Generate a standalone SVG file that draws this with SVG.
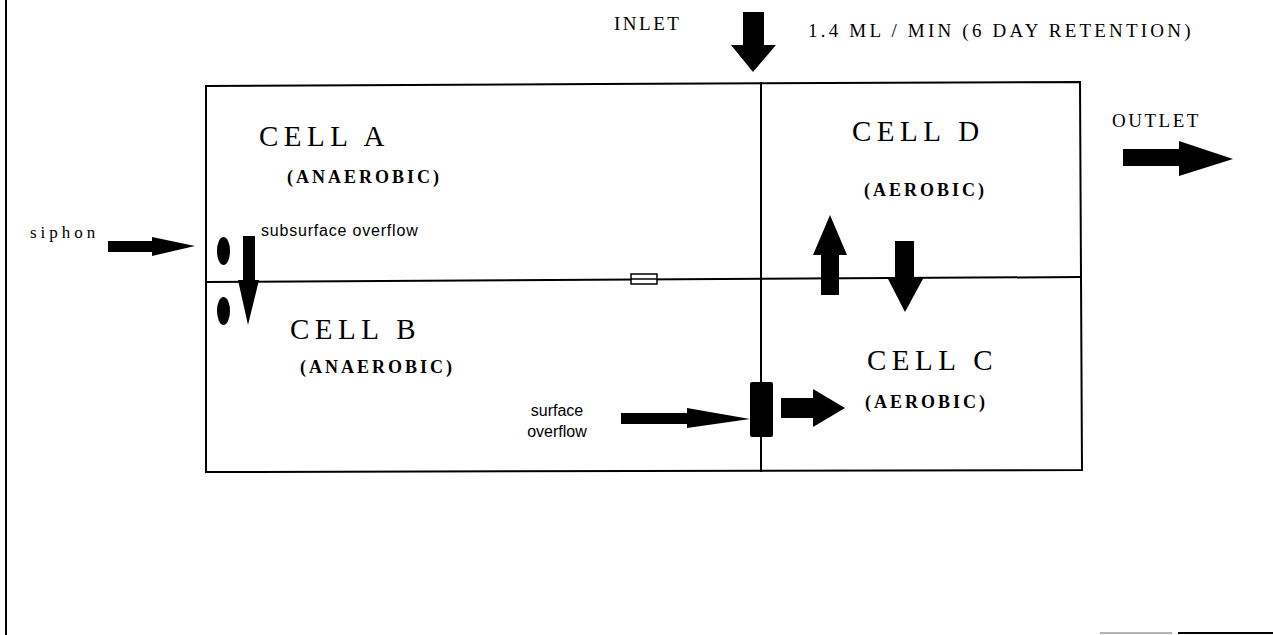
<svg xmlns="http://www.w3.org/2000/svg" width="1273" height="635" viewBox="0 0 1273 635">
<style>
.ln{stroke:#000;stroke-width:2;fill:none}
.ar{fill:#000;stroke:none}
.cell{font-family:"Liberation Serif",serif;font-size:29px;letter-spacing:5.5px;fill:#000}
.sub{font-family:"Liberation Serif",serif;font-size:18px;font-weight:bold;letter-spacing:3px;fill:#000}
.lab{font-family:"Liberation Serif",serif;font-size:19px;letter-spacing:2.5px;fill:#000}
.sans{font-family:"Liberation Sans",Arial,sans-serif;font-size:16px;fill:#000}
</style>
<rect width="1273" height="635" fill="#fff"/>
<g id="frame">
<line class="ln" x1="6" y1="0" x2="6" y2="635"/>
<line x1="1100" y1="633" x2="1172" y2="633" stroke="#999" stroke-width="1.5"/>
<line class="ln" x1="1178" y1="633" x2="1273" y2="633"/>
</g>
<g id="tank">
<path class="ln" d="M206,86 L600,84 L1080,82 L1082,470 L206,472 Z"/>
<line class="ln" x1="761" y1="82" x2="761" y2="472"/>
<line class="ln" x1="206" y1="282" x2="1082" y2="277"/>
<rect x="631" y="274" width="26" height="10" fill="#fff" stroke="#000" stroke-width="1.5"/>
<line x1="631" y1="279" x2="657" y2="279" stroke="#000" stroke-width="1.5"/>
</g>
<g id="cellA">
<text class="cell" x="259" y="146">CELL A</text>
<text class="sub" x="287" y="183">(ANAEROBIC)</text>
</g>
<g id="cellB">
<text class="cell" x="290" y="339">CELL B</text>
<text class="sub" x="300" y="373">(ANAEROBIC)</text>
</g>
<g id="cellC">
<text class="cell" x="867" y="370">CELL C</text>
<text class="sub" x="865" y="408">(AEROBIC)</text>
</g>
<g id="cellD">
<text class="cell" x="852" y="141">CELL D</text>
<text class="sub" x="864" y="196">(AEROBIC)</text>
</g>
<g id="labels">
<text class="lab" x="614" y="30">INLET</text>
<text class="lab" x="808" y="37" style="letter-spacing:3.2px">1.4 ML / MIN (6 DAY RETENTION)</text>
<text class="lab" x="1112" y="127">OUTLET</text>
<text class="lab" x="30" y="238" style="font-size:17px;letter-spacing:4px">siphon</text>
<text class="sans" x="261" y="236" style="letter-spacing:0.8px">subsurface overflow</text>
<text class="sans" x="557" y="416" text-anchor="middle">surface</text>
<text class="sans" x="557" y="437" text-anchor="middle">overflow</text>
</g>
<g id="fittings">
<ellipse class="ar" cx="223.5" cy="251" rx="6.5" ry="14"/>
<ellipse class="ar" cx="223.5" cy="311" rx="6.5" ry="14"/>
<rect class="ar" x="750" y="382" width="23" height="55" rx="2"/>
</g>
<g id="connectors">
<polygon class="ar" points="743,12 764,12 764,45 776,45 753,72 731,45 743,45"/>
<polygon class="ar" points="1123,149 1179,149 1179,141 1233,159 1179,176 1179,166 1123,166"/>
<polygon class="ar" points="108,241 152,241 152,237 195,246 152,256 152,252 108,252"/>
<polygon class="ar" points="243,236 255,236 255,280 259,280 248,325 238,280 243,280"/>
<polygon class="ar" points="621,413 687,413 687,408 750,419 687,428 687,424 621,424"/>
<polygon class="ar" points="781,398 813,398 813,389 845,408 813,427 813,418 781,418"/>
<polygon class="ar" points="821,295 839,295 839,255 847,255 830,215 813,255 821,255"/>
<polygon class="ar" points="895,241 914,241 914,277 924,277 905,312 887,277 895,277"/>
</g>
</svg>
